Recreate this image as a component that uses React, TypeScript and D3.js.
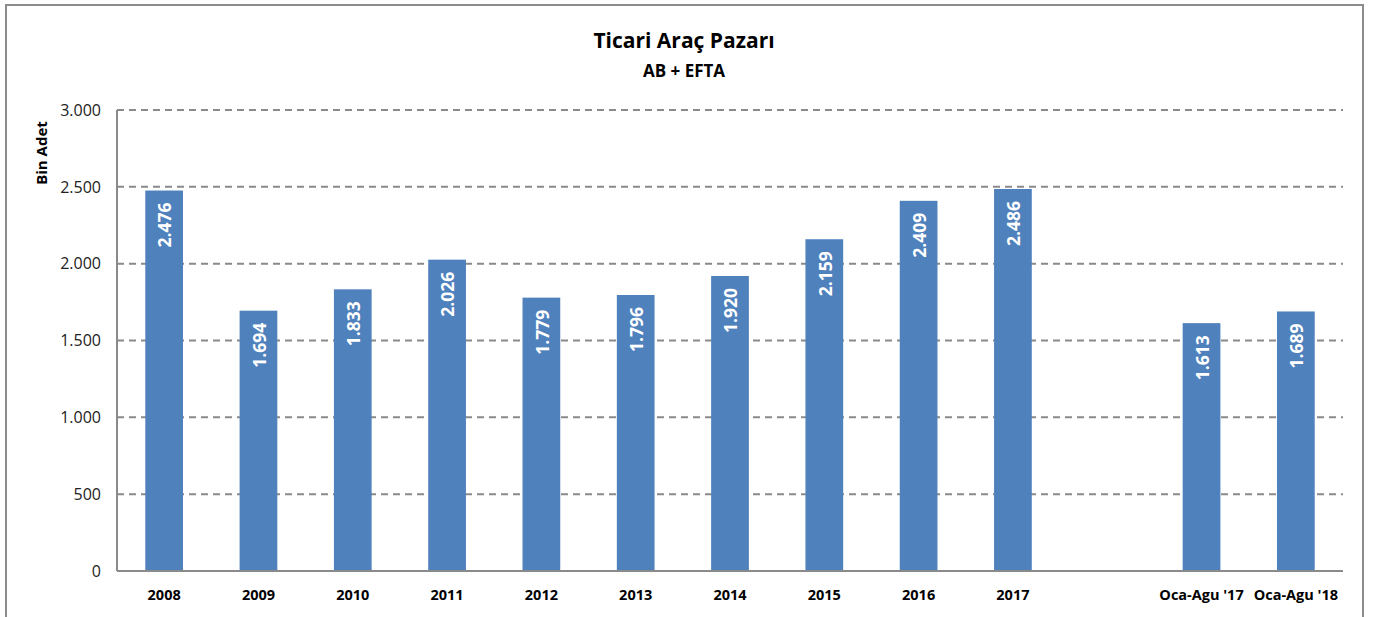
import React from 'react';
import * as d3 from 'd3';

const categories = ['2008', '2009', '2010', '2011', '2012', '2013', '2014', '2015', '2016', '2017', '', "Oca-Agu '17", "Oca-Agu '18"];
const values: (number | null)[] = [2476, 1694, 1833, 2026, 1779, 1796, 1920, 2159, 2409, 2486, null, 1613, 1689];
const yTicks = [0, 500, 1000, 1500, 2000, 2500, 3000];

const title = 'Ticari Araç Pazarı';
const subtitle = 'AB + EFTA';
const yTitle = 'Bin Adet';

const W = 1374;
const H = 617;
const margin = { top: 110, right: 31, bottom: 46, left: 117 };
const FONT = '"Open Sans", Calibri, sans-serif';

// sayı biçimi: binlik ayırıcı nokta
const fmt = (v: number) => d3.format(',')(v).replace(/,/g, '.');

const App = () => {
  const x = d3.scaleBand<string>()
    .domain(categories.map((c, i) => c || `gap${i}`))
    .range([margin.left, W - margin.right])
    .paddingInner(0.6)
    .paddingOuter(0.3);

  const y = d3.scaleLinear()
    .domain([0, 3000])
    .range([H - margin.bottom, margin.top]);

  const key = (i: number) => categories[i] || `gap${i}`;

  return (
    <svg width={W} height={H} style={{ position: 'absolute', left: 0, top: 0, background: '#fff' }} fontFamily={FONT}>
      <rect x={6} y={5} width={1357} height={H + 10} fill="#fff" stroke="#8c8c8c" strokeWidth={2} />

      <text x={684} y={48} textAnchor="middle" fontSize={21} fontWeight="bold" fill="#000">{title}</text>
      <text x={684} y={77} textAnchor="middle" fontSize={17} fontWeight="bold" fill="#000">{subtitle}</text>

      {/* ızgara çizgileri */}
      {yTicks.filter(t => t > 0).map(t => (
        <line key={t} x1={margin.left} x2={W - margin.right} y1={y(t)} y2={y(t)}
          stroke="#8a8a8a" strokeWidth={2} strokeDasharray="7,5" />
      ))}

      {yTicks.map(t => (
        <text key={t} x={101} y={y(t)} dy="0.36em" textAnchor="end" fontSize={16} fill="#222">{fmt(t)}</text>
      ))}

      <text transform={`translate(47,153) rotate(-90)`} textAnchor="middle" fontSize={15} fontWeight="bold" fill="#000">{yTitle}</text>

      {values.map((v, i) => v == null ? null : (
        <g key={i}>
          <rect x={x(key(i))} y={y(v)} width={x.bandwidth()} height={y(0) - y(v)} fill="#4F81BD" />
          <text transform={`translate(${x(key(i))! + x.bandwidth() / 2 + 1},${y(v) + 12}) rotate(-90)`}
            textAnchor="end" dy="0.36em" fontSize={17.5} fontWeight="bold" fill="#fff">{fmt(v)}</text>
        </g>
      ))}

      <line x1={margin.left} x2={margin.left} y1={margin.top} y2={y(0)} stroke="#8a8a8a" strokeWidth={2} />
      <line x1={margin.left} x2={W - margin.right} y1={y(0)} y2={y(0)} stroke="#8a8a8a" strokeWidth={2} />

      {categories.map((c, i) => c ? (
        <text key={i} x={x(key(i))! + x.bandwidth() / 2} y={600} textAnchor="middle" fontSize={14.5} fontWeight="bold" fill="#000">{c}</text>
      ) : null)}
    </svg>
  );
};

export default App;
